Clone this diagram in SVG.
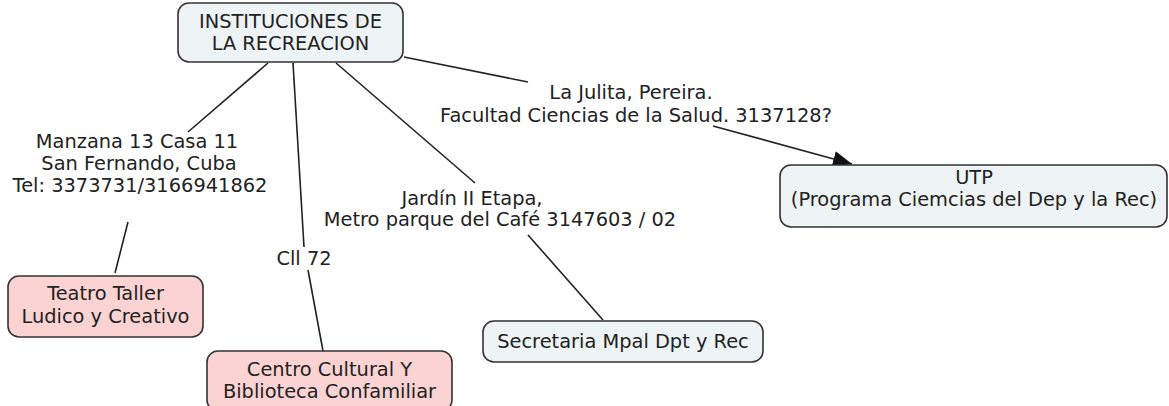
<svg xmlns="http://www.w3.org/2000/svg" width="1169" height="406" viewBox="0 0 1169 406">
<style>
text{font-family:"DejaVu Sans",Verdana,sans-serif;font-size:19.4px;fill:#222;text-anchor:middle}
.blue{fill:#eef3f5;stroke:#333;stroke-width:1.6}
.pink{fill:#fbd3d3;stroke:#333;stroke-width:1.6}
.conn line{stroke:#222;stroke-width:1.6}
</style>
<defs>
<marker id="arr" markerUnits="userSpaceOnUse" markerWidth="22" markerHeight="18" refX="19" refY="8" orient="auto">
<path d="M0,0 L19,8 L0,16 Z" fill="#111"/>
</marker>
</defs>
<rect width="1169" height="406" fill="#fff"/>
<g id="connectors" class="conn">
<line x1="268" y1="63" x2="188" y2="132"/>
<line x1="128" y1="222" x2="115" y2="273"/>
<line x1="293" y1="63" x2="304" y2="247"/>
<line x1="308" y1="270" x2="323" y2="351"/>
<line x1="336" y1="63" x2="475" y2="183"/>
<line x1="528" y1="235" x2="603" y2="320"/>
<line x1="404" y1="57" x2="528" y2="82"/>
<line x1="713" y1="126" x2="852" y2="164" marker-end="url(#arr)"/>
</g>
<g id="labels">
<text x="137" y="148">Manzana 13 Casa 11</text>
<text x="139" y="170">San Fernando, Cuba</text>
<text x="140" y="192">Tel: 3373731/3166941862</text>
<text x="304" y="265">Cll 72</text>
<text x="472" y="205">Jardín II Etapa,</text>
<text x="500" y="226">Metro parque del Café 3147603 / 02</text>
<text x="631" y="99">La Julita, Pereira.</text>
<text x="636" y="122">Facultad Ciencias de la Salud. 3137128?</text>
</g>
<g id="node-instituciones">
<rect class="blue" x="178" y="3" width="225" height="59" rx="11"/>
<text x="290.5" y="28">INSTITUCIONES DE</text>
<text x="290.5" y="50">LA RECREACION</text>
</g>
<g id="node-teatro">
<rect class="pink" x="8" y="276" width="195" height="61" rx="11"/>
<text x="105.5" y="300">Teatro Taller</text>
<text x="105.5" y="323">Ludico y Creativo</text>
</g>
<g id="node-centro">
<rect class="pink" x="207" y="351" width="245" height="60" rx="11"/>
<text x="329.5" y="376">Centro Cultural Y</text>
<text x="329.5" y="398">Biblioteca Confamiliar</text>
</g>
<g id="node-secretaria">
<rect class="blue" x="483" y="321" width="280" height="41" rx="11"/>
<text x="623" y="348">Secretaria Mpal Dpt y Rec</text>
</g>
<g id="node-utp">
<rect class="blue" x="780" y="165" width="387" height="62" rx="11"/>
<text x="974" y="184">UTP</text>
<text x="974" y="206">(Programa Ciemcias del Dep y la Rec)</text>
</g>
</svg>
